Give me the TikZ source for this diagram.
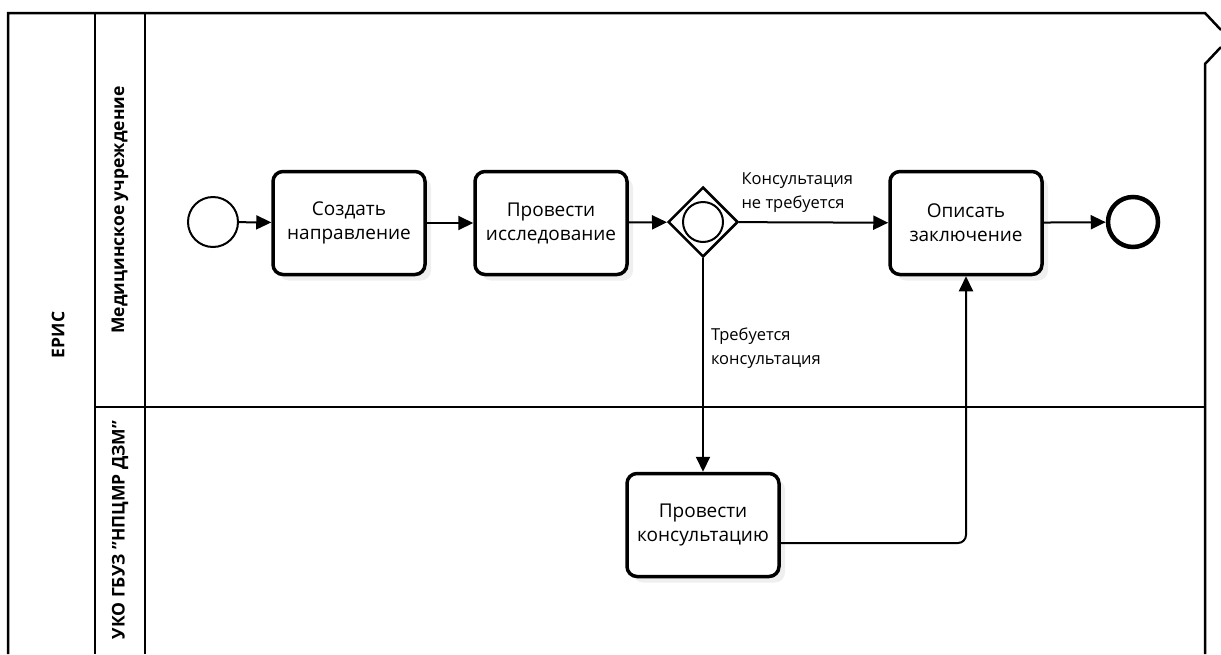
\documentclass[tikz,border=0pt]{standalone}
\usepackage{fontspec}
\setmainfont{Open Sans}
\usetikzlibrary{shapes.geometric, arrows.meta, positioning, calc, shadows}

\tikzset{
  task/.style={draw, line width=3.5pt, rounded corners=10pt, fill=white,
    minimum width=152pt, minimum height=103pt, align=center,
    font=\fontsize{19}{24}\selectfont,
    drop shadow={shadow xshift=6pt, shadow yshift=-6pt, fill=gray!25}},
  startev/.style={draw, circle, line width=2pt, minimum size=50pt, fill=white},
  endev/.style={draw, circle, line width=4.5pt, minimum size=50pt, fill=white},
  gateway/.style={draw, diamond, line width=2.5pt, minimum width=70pt,
    minimum height=70pt, inner sep=0pt, fill=white},
  gwmark/.style={draw, circle, line width=2pt, minimum size=40pt, inner sep=0pt},
  flow/.style={line width=2pt, -{Triangle[length=15pt,width=14pt]}},
  flowlabel/.style={align=left, font=\fontsize{16.5}{24}\selectfont},
  lanelabel/.style={rotate=90, font=\bfseries\fontsize{17.5}{20}\selectfont},
  poolline/.style={line width=2.5pt}
}

\begin{document}
\begin{tikzpicture}[x=1pt, y=-1pt]
\useasboundingbox (0,0) rectangle (1221,654);

% Pool and lanes
\draw[poolline] (8,654) -- (8,13) -- (1205,13) -- (1221,30);
\draw[poolline] (1221,47) -- (1205,64) -- (1205,654);
\draw[line width=1.5pt] (95,13) -- (95,654);
\draw[line width=1.5pt] (145,13) -- (145,654);
\draw[line width=1.5pt] (95,407) -- (1205,407);
\node[lanelabel] (pool) at (58,335) {ЕРИС};
\node[lanelabel] (lanemed) at (120,210) {Медицинское учреждение};
\node[lanelabel] (lanenpc) at (120,530) {УКО ГБУЗ "НПЦМР ДЗМ"};

% Elements
\node[startev] (start) at (213,222) {};
\node[task] (create) at (349,223) {Создать\\направление};
\node[task] (study) at (551,223) {Провести\\исследование};
\node[gateway] (gw) at (703,222) {};
\node[gwmark] (gwin) at (703,222) {};
\node[task] (describe) at (966,223) {Описать\\заключение};
\node[endev] (stop) at (1133,222) {};
\node[task] (consult) at (703,525) {Провести\\консультацию};

% Flows
\draw[flow] (start) -- (create);
\draw[flow] (create) -- (study);
\draw[flow] (study) -- (gw);
\draw[flow] (gw) -- node[flowlabel, above, pos=0.39, inner sep=9pt] (lblno)
  {Консультация\\не требуется} (describe);
\draw[flow] (describe) -- (stop);
\draw[flow] (gw) -- node[flowlabel, right, pos=0.42, inner sep=7pt] (lblyes)
  {Требуется\\консультация} (consult);
\draw[flow, rounded corners=8pt] ([yshift=-18pt]consult.east) -| (describe.south);
\end{tikzpicture}
\end{document}
